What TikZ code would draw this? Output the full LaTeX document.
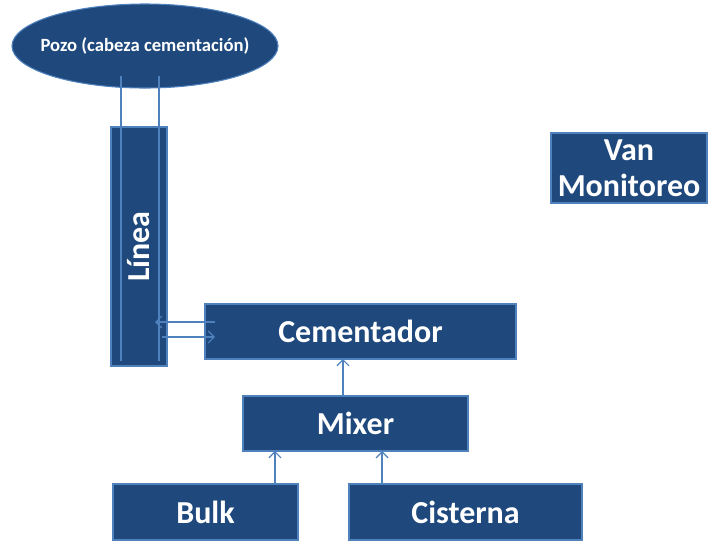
\documentclass[tikz,border=0pt]{standalone}
\usepackage{fontspec}
\setmainfont{Carlito}
\usetikzlibrary{arrows,arrows.meta,shapes.geometric}
\definecolor{boxblue}{RGB}{31,73,125}
\definecolor{lineblue}{RGB}{79,129,189}

\begin{document}
\begin{tikzpicture}[x=0.75pt,y=-0.75pt,>={Straight Barb[length=4.5pt,width=9pt]}]
	\tikzstyle{every node}=[inner sep=0pt, outer sep=0pt]
	\tikzstyle{box}=[draw=lineblue, fill=boxblue, text=white, line width=0.8pt, font=\bfseries\fontsize{24}{27}\selectfont]
	\tikzstyle{link}=[draw=lineblue, line width=0.9pt]
	\useasboundingbox (0,0) rectangle (709,540);
	\draw (145,46) node (pozo) [box, ellipse, minimum width=199.5pt, minimum height=63pt, font=\bfseries\fontsize{14}{16}\selectfont] {\makebox[0pt]{Pozo (cabeza cementación)}};
	\draw (139,246.5) node (linea) [box, minimum width=42pt, minimum height=179.25pt] {\rotatebox{90}{Línea}};
	\draw (360.5,331.5) node (cem) [box, minimum width=233.25pt, minimum height=41.25pt] {Cementador};
	\draw (355.5,423.5) node (mixer) [box, minimum width=168.75pt, minimum height=41.25pt] {Mixer};
	\draw (205.5,512) node (bulk) [box, minimum width=138.75pt, minimum height=42pt] {Bulk};
	\draw (465.5,512) node (cist) [box, minimum width=174.75pt, minimum height=42pt] {Cisterna};
	\draw (629,168) node (van) [box, minimum width=117pt, minimum height=52.5pt, align=center] {Van\\Monitoreo};
	% lineas del pozo
	\coordinate (p0) at ([yshift=9pt]pozo.south);
	\coordinate (a1) at ([xshift=-13.5pt]linea.north |- p0);
	\coordinate (a2) at ([xshift=15pt]linea.north |- p0);
	\coordinate (b1) at ([xshift=-13.5pt,yshift=3.75pt]linea.south);
	\coordinate (b2) at ([xshift=15pt,yshift=3.75pt]linea.south);
	\draw[link] (a1) -- (b1);
	\draw[link] (a2) -- (b2);
	\coordinate (c1) at ([shift={(7.5pt,7.1pt)}]cem.west);
	\coordinate (c2) at ([shift={(7.5pt,-4.1pt)}]cem.west);
	\coordinate (l1) at ([xshift=-9pt]linea.east);
	\coordinate (l2) at ([xshift=-4pt]linea.east);
	\draw[link,->] (c1) -- (l1 |- c1);
	\draw[link,->] (l2 |- c2) -- (c2);
	\draw[link,->] ([xshift=-9.4pt]mixer.north) -- ([xshift=-9.4pt]mixer.north |- cem.south);
	\draw[link,->] ([xshift=52.1pt]bulk.north) -- ([xshift=52.1pt]bulk.north |- mixer.south);
	\draw[link,->] ([xshift=-62.6pt]cist.north) -- ([xshift=-62.6pt]cist.north |- mixer.south);
\end{tikzpicture}
\end{document}
